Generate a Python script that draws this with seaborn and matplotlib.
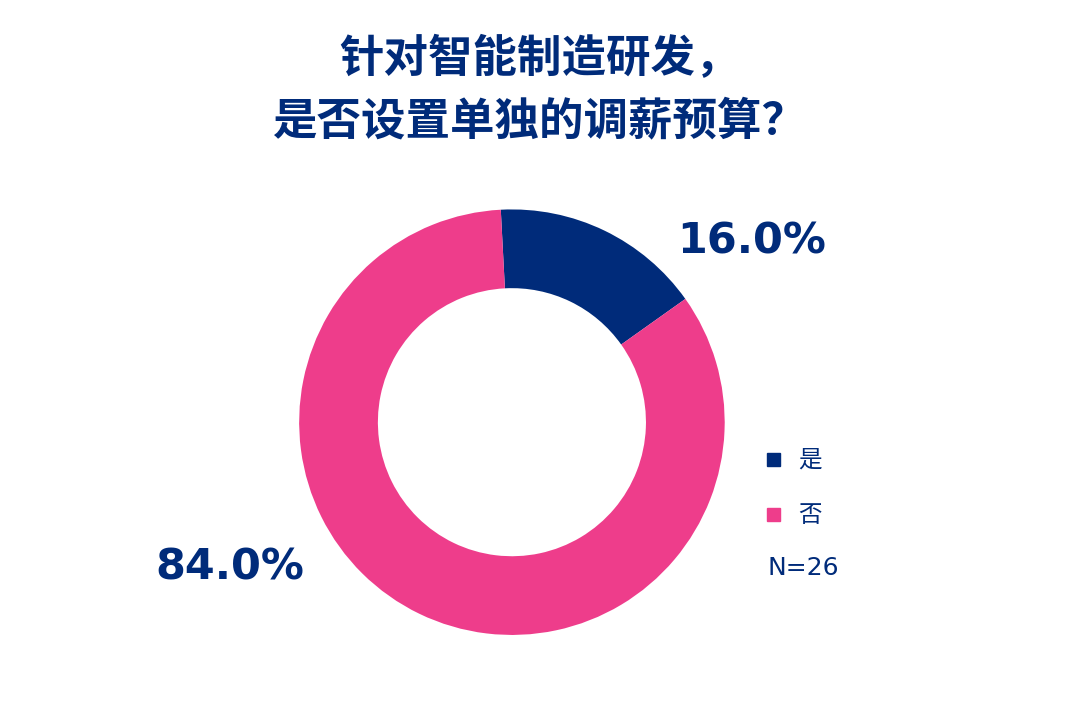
import matplotlib
matplotlib.use("Agg")
import matplotlib.pyplot as plt
import seaborn as sns

sns.set_theme(style="white")
plt.rcParams['font.family'] = ['Noto Sans CJK SC', 'DejaVu Sans']

labels = ['是', '否']
values = [16.0, 84.0]
colors = ['#002B7A', '#EE3D8B']
title = '针对智能制造研发，\n是否设置单独的调薪预算？'
n_text = 'N=26'
navy = '#002B7A'

fig = plt.figure(figsize=(10.8, 7.06), dpi=100)
fig.patch.set_facecolor('white')
ax = fig.add_axes([0.474 - 0.197, 0.402 - 0.3017, 0.394, 0.6034])
wedges, _ = ax.pie(values, colors=colors, startangle=93, counterclock=False,
                   radius=1.0, wedgeprops=dict(width=0.37, edgecolor='white', linewidth=0))
ax.set_xlim(-1, 1)
ax.set_ylim(-1, 1)
ax.set_aspect('equal')
ax.axis('off')

fig.text(0.5, 1 - 90 / 706, title, ha='center', va='center', fontsize=32,
         fontweight='bold', color=navy, linespacing=1.45)

fig.text(752 / 1080, 1 - 242 / 706, f'{values[0]:.1f}%', ha='center', va='center',
         fontsize=31, fontweight='bold', color=navy, family='DejaVu Sans')
fig.text(230 / 1080, 1 - 568 / 706, f'{values[1]:.1f}%', ha='center', va='center',
         fontsize=31, fontweight='bold', color=navy, family='DejaVu Sans')

for i, (lab, col) in enumerate(zip(labels, colors)):
    y = 1 - (460 + 55 * i) / 706
    fig.patches.append(plt.Rectangle((767 / 1080, y - 6 / 706), 13 / 1080, 13 / 706,
                                     transform=fig.transFigure, color=col))
    fig.text(798 / 1080, y, lab, ha='left', va='center', fontsize=17, color=navy)
fig.text(767 / 1080, 1 - 568 / 706, n_text, ha='left', va='center', fontsize=18,
         color=navy, family='DejaVu Sans')

fig.savefig('out.png', dpi=100)
